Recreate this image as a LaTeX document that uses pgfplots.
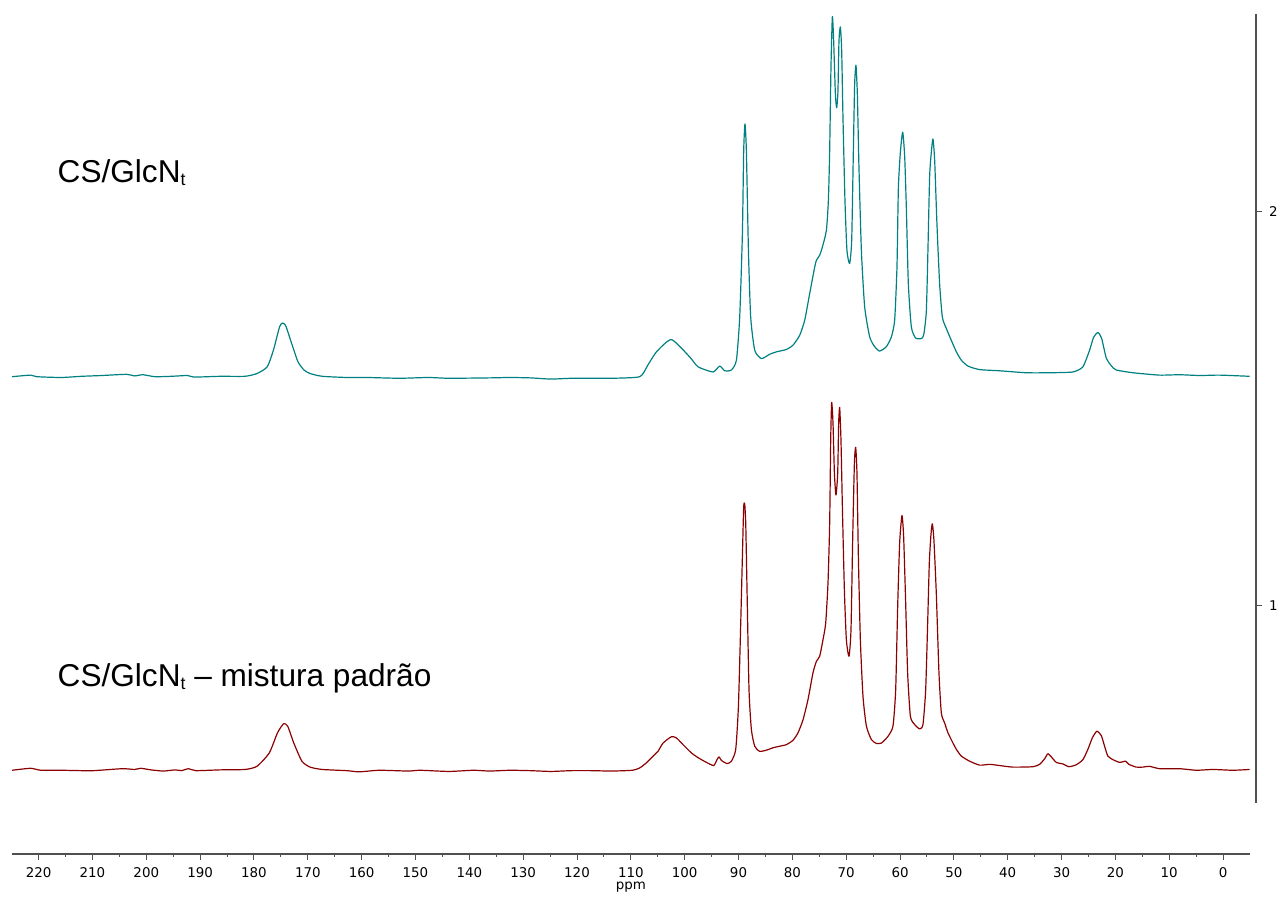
\documentclass[border=0pt]{standalone}
\usepackage{fontspec}
\setmainfont{Liberation Sans}
\newfontfamily\tickfont{DejaVu Sans}
\usepackage{pgfplots}
\pgfplotsset{compat=1.18}
\usepackage{pgfplotstable}

\definecolor{specteal}{RGB}{0,128,128}
\definecolor{specred}{RGB}{139,0,0}
\definecolor{axisgray}{RGB}{80,80,80}

% 13C CP-MAS spectrum, CS/GlcN_t (stacked at offset ~1.58)
\pgfplotstableread{
ppm int
224.91 1.581
221.49 1.585
220.36 1.581
215.81 1.579
212.02 1.582
208.23 1.584
203.69 1.587
202.16 1.583
200.64 1.586
198.38 1.581
195.35 1.582
192.30 1.584
191.17 1.580
186.25 1.582
181.70 1.582
179.44 1.589
177.54 1.606
176.39 1.648
175.26 1.707
174.74 1.717
174.13 1.711
172.99 1.665
171.84 1.619
170.71 1.598
169.58 1.589
167.31 1.582
162.76 1.579
158.98 1.579
152.91 1.577
147.60 1.579
143.81 1.577
136.23 1.578
132.45 1.579
128.66 1.578
124.87 1.575
121.08 1.577
117.29 1.577
113.51 1.577
108.35 1.581
106.86 1.610
105.24 1.644
102.46 1.675
99.06 1.631
97.52 1.606
94.74 1.593
93.49 1.608
92.56 1.596
91.32 1.598
90.39 1.623
89.78 1.732
89.28 1.944
89.04 2.154
88.80 2.222
88.54 2.154
88.16 1.901
87.74 1.732
86.99 1.648
85.75 1.627
84.21 1.638
82.97 1.644
81.11 1.650
79.88 1.661
78.64 1.686
77.71 1.724
76.78 1.792
75.85 1.859
75.54 1.876
74.93 1.889
74.42 1.910
73.68 1.952
73.31 2.028
73.07 2.154
72.83 2.365
72.57 2.494
72.33 2.433
72.01 2.298
71.77 2.263
71.53 2.306
71.34 2.433
71.08 2.468
70.84 2.408
70.60 2.239
70.23 2.028
69.86 1.901
69.36 1.868
68.98 1.927
68.67 2.154
68.43 2.323
68.19 2.371
67.93 2.298
67.63 2.112
67.18 1.901
66.57 1.758
65.64 1.682
64.71 1.657
63.79 1.646
62.54 1.657
61.61 1.682
61.00 1.724
60.57 1.859
60.31 2.060
59.94 2.150
59.51 2.201
59.14 2.140
58.83 2.010
58.46 1.817
57.90 1.707
57.10 1.679
55.99 1.678
55.56 1.690
55.11 1.749
54.82 1.901
54.50 2.090
54.19 2.150
53.89 2.184
53.57 2.130
53.15 1.970
52.65 1.817
52.14 1.732
51.40 1.703
50.47 1.673
49.54 1.644
48.62 1.623
47.39 1.608
45.22 1.599
41.51 1.596
36.55 1.591
32.22 1.591
27.90 1.593
26.04 1.606
24.80 1.648
24.05 1.681
23.25 1.693
22.57 1.679
21.69 1.628
20.71 1.608
19.84 1.598
16.76 1.591
11.80 1.585
8.09 1.586
4.37 1.584
0.66 1.585
-4.91 1.582
}\toptable

% 13C CP-MAS spectrum, CS/GlcN_t -- standard mixture (offset ~0.58)
\pgfplotstableread{
ppm int
224.91 0.583
221.49 0.588
219.60 0.583
215.81 0.583
212.02 0.582
209.74 0.582
204.45 0.587
202.16 0.585
201.03 0.588
199.14 0.584
196.85 0.581
194.59 0.584
193.46 0.582
192.16 0.587
190.80 0.582
186.25 0.584
181.70 0.585
179.44 0.593
177.15 0.627
175.63 0.678
174.50 0.701
173.74 0.695
172.60 0.652
171.10 0.606
169.58 0.591
167.31 0.585
162.76 0.582
160.48 0.579
156.69 0.583
151.38 0.581
149.12 0.583
143.81 0.580
139.26 0.583
136.23 0.581
132.45 0.583
128.66 0.582
124.87 0.580
121.08 0.582
117.29 0.582
113.51 0.581
109.70 0.583
108.35 0.589
107.10 0.602
105.56 0.623
104.95 0.631
104.02 0.652
102.46 0.668
101.53 0.665
100.31 0.648
98.75 0.627
97.52 0.615
95.96 0.603
94.61 0.595
93.99 0.610
93.62 0.617
93.18 0.608
92.14 0.600
91.32 0.606
90.52 0.636
90.02 0.745
89.59 0.956
89.28 1.125
89.04 1.251
88.85 1.258
88.66 1.209
88.42 1.041
88.05 0.787
87.61 0.686
86.99 0.644
86.07 0.631
84.82 0.634
83.60 0.640
82.35 0.644
81.11 0.648
79.88 0.659
78.95 0.678
78.02 0.711
77.10 0.762
76.17 0.830
75.54 0.859
74.93 0.872
74.31 0.914
73.81 0.956
73.38 1.058
73.07 1.209
72.88 1.420
72.70 1.516
72.45 1.463
72.19 1.336
71.90 1.281
71.58 1.336
71.40 1.463
71.21 1.503
70.97 1.420
70.71 1.251
70.34 1.041
69.97 0.914
69.48 0.872
69.11 0.939
68.80 1.167
68.48 1.361
68.24 1.402
68.00 1.336
67.74 1.125
67.37 0.914
66.88 0.770
66.25 0.695
65.33 0.661
64.40 0.651
63.47 0.652
62.24 0.669
61.31 0.695
60.81 0.787
60.44 0.998
60.07 1.160
59.64 1.229
59.33 1.175
58.96 1.010
58.59 0.830
58.08 0.720
57.29 0.699
56.36 0.688
55.74 0.699
55.24 0.787
54.87 0.956
54.56 1.110
54.26 1.180
54.00 1.208
53.70 1.165
53.26 1.030
52.77 0.830
52.33 0.728
51.72 0.703
51.10 0.678
50.17 0.652
49.54 0.636
48.62 0.619
47.08 0.606
45.22 0.596
43.36 0.598
41.51 0.595
39.04 0.591
35.32 0.592
34.08 0.598
33.15 0.612
32.54 0.625
31.91 0.617
30.98 0.603
29.75 0.599
28.64 0.592
27.26 0.597
26.04 0.610
25.11 0.636
24.29 0.665
23.44 0.682
22.62 0.671
22.01 0.644
21.40 0.619
20.47 0.610
19.22 0.603
18.11 0.606
17.50 0.598
16.12 0.591
14.90 0.591
13.66 0.593
11.80 0.587
8.09 0.587
4.99 0.583
1.90 0.585
-1.81 0.583
-4.91 0.585
}\bottable

\tikzset{
  tickfontstyle/.style={font=\tickfont\fontsize{6.7pt}{8pt}\selectfont, text=black},
}

\begin{document}
\begin{tikzpicture}
\useasboundingbox (0pt,0pt) rectangle (639pt,449pt);

% the two stacked spectra
\begin{axis}[
  at={(5.85pt,47.5pt)}, anchor=south west,
  scale only axis, width=619.15pt, height=394.35pt,
  xmin=-5, xmax=225, ymin=0.5, ymax=2.5,
  x dir=reverse, axis lines=none, clip=false,
]
\addplot[specteal, line width=0.6pt, smooth, tension=0.35, line join=round] table[x=ppm, y=int] {\toptable};
\addplot[specred, line width=0.6pt, smooth, tension=0.35, line join=round] table[x=ppm, y=int] {\bottable};
\end{axis}

% chemical shift axis
\begin{axis}[
  at={(5.85pt,22pt)}, anchor=south west,
  scale only axis, width=619.15pt, height=10pt,
  xmin=-5, xmax=225, ymin=0, ymax=1,
  x dir=reverse,
  axis x line=bottom, axis y line=none,
  x axis line style={-, axisgray, line width=0.75pt},
  xtick={0,10,...,220}, minor x tick num=1,
  tick align=outside, major tick length=3pt, minor tick length=1.5pt,
  every tick/.style={axisgray, line width=0.5pt},
  xticklabel style={tickfontstyle},
  /pgf/number format/assume math mode=true,
  xlabel={ppm},
  xlabel style={at={(axis description cs:0.5,0)}, anchor=north, inner sep=0pt, yshift=-14pt, tickfontstyle},
]
\end{axis}

% intensity axis on the right
\begin{axis}[
  at={(618pt,47.5pt)}, anchor=south west,
  scale only axis, width=10pt, height=394.35pt,
  xmin=0, xmax=1, ymin=0.5, ymax=2.5,
  axis y line=right, axis x line=none,
  y axis line style={-, axisgray, line width=0.75pt},
  ytick={1,2},
  tick align=outside, major tick length=3pt,
  every tick/.style={axisgray, line width=0.5pt},
  yticklabel style={tickfontstyle},
  /pgf/number format/assume math mode=true,
]
\end{axis}

\node[anchor=base west, inner sep=0pt] at (28.65pt,357.65pt)
  {\fontsize{15.8pt}{18pt}\selectfont CS/GlcN\raisebox{-1.3pt}{\fontsize{8.8pt}{10pt}\selectfont t}};
\node[anchor=base west, inner sep=0pt] at (28.65pt,105.65pt)
  {\fontsize{15.8pt}{18pt}\selectfont CS/GlcN\raisebox{-1.3pt}{\fontsize{8.8pt}{10pt}\selectfont t} -- mistura padrão};
\end{tikzpicture}
\end{document}
